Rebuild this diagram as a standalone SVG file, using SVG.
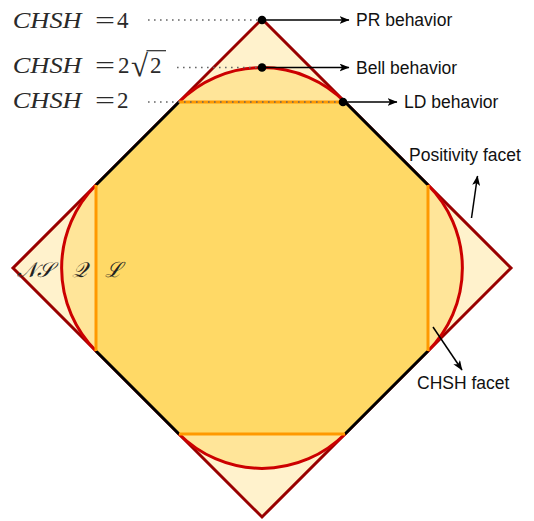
<svg xmlns="http://www.w3.org/2000/svg" width="534" height="521" viewBox="0 0 534 521">
<defs>
<style>
.math{font-family:"Liberation Serif","DejaVu Serif",serif;font-size:23px;fill:#2a2a2a}
.it{font-style:italic}
.lbl{font-family:"Liberation Sans",Arial,sans-serif;font-size:17.5px;fill:#111}
.cal{font-family:"DejaVu Serif","Liberation Serif",serif;font-size:21px;fill:#222;font-style:italic}
.dots{stroke:#666;stroke-width:1.6;stroke-dasharray:1.6 4.4;fill:none}
.arr{stroke:#000;stroke-width:1.5;fill:none;marker-end:url(#ah)}
.cap{fill:#ffe599;stroke:none}
.arc{fill:none;stroke:#cc0000;stroke-width:3}
.blk{stroke:#000;stroke-width:3;fill:none}
.org{stroke:#ff9900;stroke-width:3;fill:none}
</style>
<marker id="ah" markerWidth="11" markerHeight="8" refX="9.5" refY="4" orient="auto" markerUnits="userSpaceOnUse">
<path d="M0,0 L10,4 L0,8 L2.5,4 Z" fill="#000"/>
</marker>
</defs>

<g id="ns-polytope">
<polygon points="262,19 511,268 262,517 13,268" fill="#fff2cc" stroke="#990000" stroke-width="3" stroke-linejoin="miter"/>
</g>

<g id="quantum-set">
<path class="cap" d="M179,102 A117.38,117.38 0 0 1 345,102 Z"/>
<path class="cap" d="M428,185 A117.38,117.38 0 0 1 428,351 Z"/>
<path class="cap" d="M345,434 A117.38,117.38 0 0 1 179,434 Z"/>
<path class="cap" d="M96,351 A117.38,117.38 0 0 1 96,185 Z"/>
<path class="arc" d="M179,102 A117.38,117.38 0 0 1 345,102"/>
<path class="arc" d="M428,185 A117.38,117.38 0 0 1 428,351"/>
<path class="arc" d="M345,434 A117.38,117.38 0 0 1 179,434"/>
<path class="arc" d="M96,351 A117.38,117.38 0 0 1 96,185"/>
</g>

<g id="local-polytope">
<polygon points="179,102 345,102 428,185 428,351 345,434 179,434 96,351 96,185" fill="#ffd966" stroke="none"/>
<line class="blk" x1="345" y1="102" x2="428" y2="185"/>
<line class="blk" x1="428" y1="351" x2="345" y2="434"/>
<line class="blk" x1="179" y1="434" x2="96" y2="351"/>
<line class="blk" x1="96" y1="185" x2="179" y2="102"/>
<line class="org" x1="179" y1="102" x2="345" y2="102"/>
<line class="org" x1="428" y1="185" x2="428" y2="351"/>
<line class="org" x1="345" y1="434" x2="179" y2="434"/>
<line class="org" x1="96" y1="351" x2="96" y2="185"/>
</g>

<g id="set-labels">
<text class="cal" x="17" y="277">𝒩𝒮</text>
<text class="cal" x="72" y="277">𝒬</text>
<text class="cal" x="105" y="277">ℒ</text>
</g>

<g id="connectors">
<line class="dots" x1="148" y1="20" x2="258" y2="20"/>
<line class="dots" x1="177" y1="67.5" x2="258" y2="67.5"/>
<line class="dots" x1="148" y1="102" x2="340" y2="102"/>
<line class="arr" x1="262" y1="20" x2="349" y2="20"/>
<line class="arr" x1="262" y1="67.5" x2="349" y2="67.5"/>
<line class="arr" x1="343" y1="102" x2="397" y2="102"/>
<line class="arr" x1="471.5" y1="218" x2="477.5" y2="176"/>
<line class="arr" x1="433" y1="327" x2="462" y2="370"/>
</g>

<g id="points">
<circle cx="262" cy="20" r="4.3" fill="#000"/>
<circle cx="262" cy="67.5" r="4.3" fill="#000"/>
<circle cx="343" cy="102" r="4.3" fill="#000"/>
</g>

<g id="chsh-values">
<text class="math" y="28.3"><tspan class="it" x="12.7" textLength="69" lengthAdjust="spacingAndGlyphs">CHSH</tspan><tspan x="95" textLength="20" lengthAdjust="spacingAndGlyphs">=</tspan><tspan x="117">4</tspan></text>
<text class="math" y="73.3"><tspan class="it" x="12.7" textLength="69" lengthAdjust="spacingAndGlyphs">CHSH</tspan><tspan x="95" textLength="20" lengthAdjust="spacingAndGlyphs">=</tspan><tspan x="118">2</tspan><tspan x="131" y="76" style="font-size:31px" textLength="17" lengthAdjust="spacingAndGlyphs">√</tspan><tspan x="150" y="73.3">2</tspan></text>
<line x1="146.5" y1="50.7" x2="166" y2="50.7" stroke="#2a2a2a" stroke-width="1.2"/>
<text class="math" y="108.3"><tspan class="it" x="12.7" textLength="69" lengthAdjust="spacingAndGlyphs">CHSH</tspan><tspan x="95" textLength="20" lengthAdjust="spacingAndGlyphs">=</tspan><tspan x="117">2</tspan></text>
</g>

<g id="behavior-labels">
<text class="lbl" x="356" y="26">PR behavior</text>
<text class="lbl" x="356" y="73.5">Bell behavior</text>
<text class="lbl" x="404" y="107.5">LD behavior</text>
<text class="lbl" x="409" y="160.5">Positivity facet</text>
<text class="lbl" x="417" y="389">CHSH facet</text>
</g>
</svg>
